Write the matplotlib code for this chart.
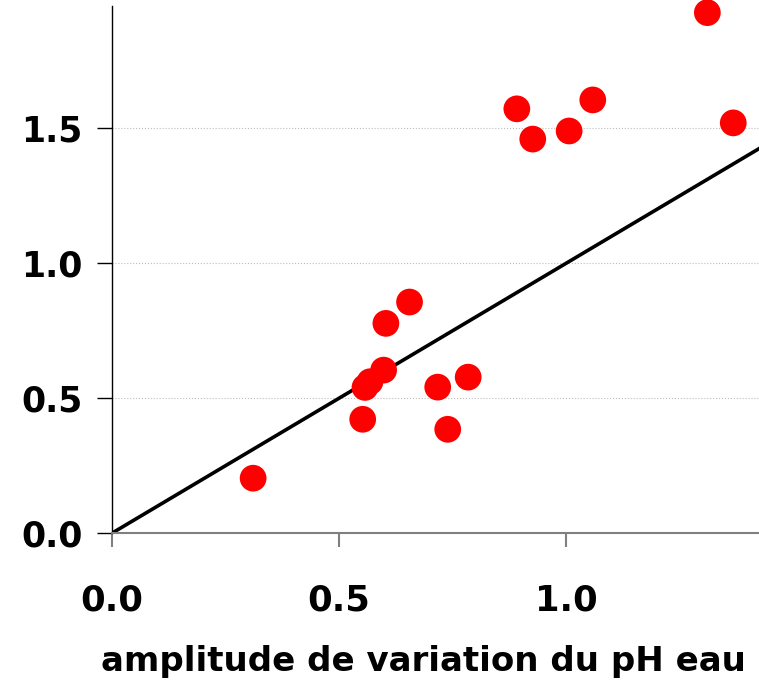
import matplotlib
matplotlib.use('Agg')
import matplotlib.pyplot as plt

# amplitude de variation du pH eau vs second variable
amp_ph_eau = [0.311, 0.552, 0.557, 0.568, 0.598, 0.603, 0.655, 0.717,
              0.739, 0.784, 0.891, 0.926, 1.006, 1.058, 1.310, 1.367]
amp_other = [0.204, 0.422, 0.540, 0.561, 0.604, 0.777, 0.856, 0.541,
             0.385, 0.578, 1.571, 1.459, 1.489, 1.604, 1.927, 1.519]

line_x = [0.0, 1.45]
line_y = [0.0, 1.45]

xticks = [0.0, 0.5, 1.0]
yticks = [0.0, 0.5, 1.0, 1.5]


def main():
    fig = plt.figure(figsize=(7.59, 6.84), dpi=100)
    ax = fig.add_axes([0.1472, 0.2203, 0.8528, 0.7703])

    ax.set_xlim(0, 1.4236)
    ax.set_ylim(0, 1.95)

    ax.grid(axis='y', color='#bdbdbd', linestyle=':', linewidth=0.8)
    ax.set_axisbelow(True)

    ax.plot(line_x, line_y, color='black', linewidth=2.6, zorder=2)
    ax.scatter(amp_ph_eau, amp_other, s=370, color='#ff0000',
               edgecolors='none', zorder=3, clip_on=False)

    for side in ['top', 'right']:
        ax.spines[side].set_visible(False)
    ax.spines['left'].set_color('black')
    ax.spines['left'].set_linewidth(1.0)
    ax.spines['bottom'].set_color('#808080')
    ax.spines['bottom'].set_linewidth(1.5)

    ax.set_xticks(xticks)
    ax.set_yticks(yticks)
    ax.set_xticklabels(['{:.1f}'.format(v) for v in xticks])
    ax.set_yticklabels(['{:.1f}'.format(v) for v in yticks])
    ax.tick_params(axis='x', length=10, width=1.5, color='#808080',
                   pad=26, labelsize=25.5)
    ax.tick_params(axis='y', length=11, width=1.0, color='black',
                   pad=10, labelsize=25)
    for lab in ax.get_xticklabels() + ax.get_yticklabels():
        lab.set_fontweight('bold')

    ax.set_xlabel('amplitude de variation du pH eau', fontsize=24.5,
                  fontweight='bold')
    ax.xaxis.set_label_coords(0.481, -0.212)

    fig.savefig('out.png', dpi=100, facecolor='white')


if __name__ == '__main__':
    main()
